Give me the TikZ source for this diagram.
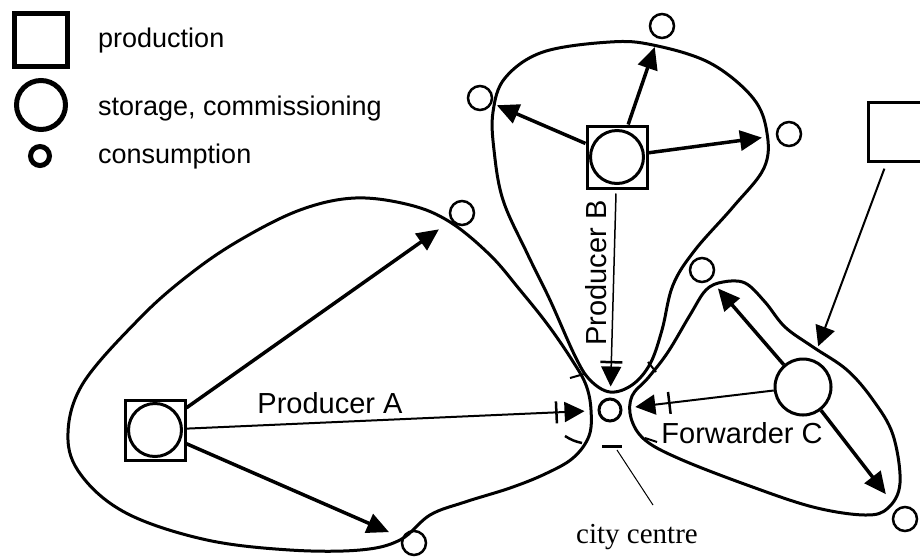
\documentclass[tikz,border=0pt]{standalone}
\usepackage{fontspec}
\setmainfont{Liberation Sans}
\newfontfamily\cityfont{Liberation Serif}
\usetikzlibrary{arrows.meta}

\tikzset{
  prodbox/.style={draw, rectangle, line width=3pt, minimum size=60pt, inner sep=0pt},
  storecirc/.style={draw, circle, line width=3pt, minimum size=53pt, inner sep=0pt},
  conscirc/.style={draw, circle, line width=2.5pt, minimum size=24pt, inner sep=0pt},
  zone/.style={line width=3pt},
  flow/.style={line width=3.5pt, -{Triangle[length=22pt,width=20pt]}},
  thinflow/.style={line width=2pt, -{Triangle[length=20pt,width=20pt]}},
  tickbar/.style={fill, draw=none, minimum width=2.5pt, minimum height=22pt, inner sep=0pt, outer sep=0pt, sloped},
  lbl/.style={font=\fontsize{29pt}{33pt}\selectfont, inner sep=0pt},
  keylbl/.style={font=\fontsize{27pt}{31pt}\selectfont, inner sep=0pt, anchor=base west}
}

\begin{document}
\begin{tikzpicture}[x=1pt, y=-1pt]
    \useasboundingbox (0,0) rectangle (920,558);
    \clip (0,0) rectangle (920,558);
    \fill [white] (0,0) rectangle (920,558);

    % legend
    \node [draw, line width=5pt, minimum size=53pt, inner sep=0pt] (keyP) at (41,40) {};
    \node [draw, circle, line width=5pt, minimum size=49pt, inner sep=0pt] (keyS) at (41,105) {};
    \node [draw, circle, line width=5pt, minimum size=19pt, inner sep=0pt] (keyC) at (40,156) {};
    \node [keylbl] (keyPt) at (98,47) {production};
    \node [keylbl] (keySt) at (98,115) {storage, commissioning};
    \node [keylbl] (keyCt) at (98,163) {consumption};

    % zones
    \draw [zone] plot [smooth cycle, tension=0.6] coordinates {
        (355,198) (410,205) (450,222) (490,255) (520,290) (548,325) (572,360)
        (586,385) (591,410) (589,436) (573,458) (545,474) (510,488) (465,502)
        (430,515) (400,540) (360,550) (290,550) (207,540) (130,515) (85,480)
        (68,440) (82,385) (140,318) (190,274) (240,240) (300,210)};
    \draw [zone] plot [smooth cycle, tension=0.6] coordinates {
        (493,112) (505,78) (543,52) (610,42) (653,45) (710,63) (753,98)
        (767,133) (764,168) (733,207) (695,250) (673,285) (662,330) (650,364)
        (632,385) (610,392) (590,380) (575,356) (550,300) (527,253) (503,200)
        (494,150)};
    \draw [zone] plot [smooth cycle, tension=0.6] coordinates {
        (723,282) (745,283) (765,302) (785,327) (813,347) (847,370) (873,400)
        (893,435) (900,483) (888,508) (865,515) (813,507) (747,485) (680,459)
        (645,440) (631,418) (632,396) (648,378) (668,352) (690,315) (706,290)};

    % producers and forwarder
    \node [prodbox] (pA) at (155,430) {};
    \node [storecirc] (sA) at (155,430) {};
    \node [prodbox, minimum height=62pt] (pB) at (617,157) {};
    \node [storecirc] (sB) at (617,157) {};
    \node [storecirc, minimum size=56pt] (fC) at (803,387) {};
    \node [prodbox, minimum size=59pt] (pD) at (898,132) {};

    % consumers
    \node [conscirc] (cA1) at (462,213) {};
    \node [conscirc] (cA2) at (414,543) {};
    \node [conscirc] (cB1) at (662,26) {};
    \node [conscirc] (cB2) at (480,98) {};
    \node [conscirc] (cB3) at (789,134) {};
    \node [conscirc] (cC1) at (702,270) {};
    \node [conscirc] (cC2) at (905,519) {};
    \node [draw, circle, line width=3pt, minimum size=22pt, inner sep=0pt] (city) at (610,410) {};

    % flows
    \draw [flow, shorten >=15pt] (pA) -- (cA1);
    \draw [thinflow, shorten >=13pt] (pA) -- node [tickbar, pos=.9] {} (city);
    \draw [flow, shorten >=14pt] (pA) -- (cA2);
    \draw [flow, shorten >=9pt] (pB) -- (cB1);
    \draw [flow, shorten >=5pt] (pB) -- (cB2);
    \draw [flow, shorten >=14pt] (pB) -- (cB3);
    \draw [thinflow, line width=1.5pt, shorten <=4pt, shorten >=11pt] (pB) -- node [tickbar, pos=.83] {} (city);
    \draw [flow, shorten >=11pt] (fC) -- (cC1);
    \draw [flow, shorten >=18pt] (fC) -- (cC2);
    \draw [thinflow, shorten >=13pt] (fC) -- node [tickbar, pos=.69] {} (city);
    \draw [thinflow, shorten <=6pt, shorten >=14pt] (pD) -- (fC);

    % small marks round the centre
    \draw [line width=3pt] (602,446) -- (622,446);
    \draw [line width=2.5pt] (565,436) to [bend right=10] (582,443);
    \draw [line width=2pt] (570,378) -- (584,374);
    \draw [line width=2pt] (648,362) -- (656,372);
    \draw [line width=2pt] (645,438) -- (657,442);

    % labels
    \node [lbl, anchor=base] (lblA) at (330,413) {Producer A};
    \node [lbl, anchor=base, rotate=90] (lblB) at (606,273) {Producer B};
    \node [lbl, anchor=base] (lblC) at (742,443) {Forwarder C};
    \node [lbl, anchor=base, font=\cityfont\fontsize{29pt}{33pt}\selectfont] (lblCity) at (637,543) {city centre};
    \coordinate (ptrTop) at (617,450);
    \coordinate (ptrEnd) at (653,505);
    \draw [line width=1pt] (ptrTop) -- (ptrEnd);
\end{tikzpicture}
\end{document}
